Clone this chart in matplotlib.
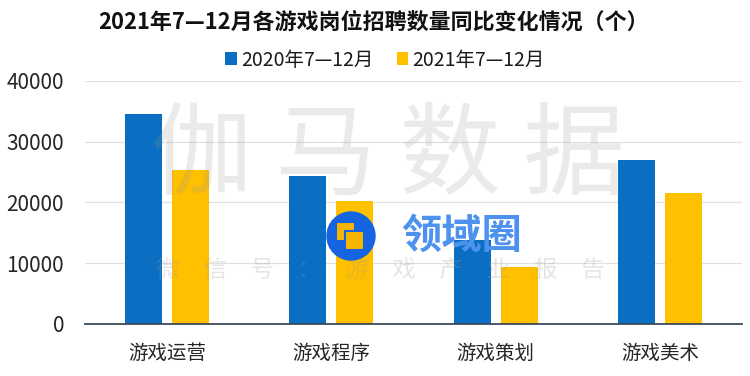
import matplotlib
matplotlib.use("Agg")
import matplotlib.pyplot as plt
from matplotlib.patches import Circle, Rectangle
import numpy as np

plt.rcParams['font.family'] = ['Noto Sans CJK SC', 'DejaVu Sans']

categories = ['游戏运营', '游戏程序', '游戏策划', '游戏美术']
series_names = ['2020年7—12月', '2021年7—12月']
values_2020 = [34600, 24300, 13800, 26900]
values_2021 = [25300, 20300, 9300, 21500]
colors = ['#0a6fc2', '#ffc000']
yticks = [0, 10000, 20000, 30000, 40000]
title = '2021年7—12月各游戏岗位招聘数量同比变化情况（个）'

fig = plt.figure(figsize=(7.5, 3.76), dpi=100)
ax = fig.add_axes([85/750, 1-324/376, 657/750, (324-80.7)/376])

x = np.arange(len(categories))
w = 0.226
ax.bar(x - 0.143, values_2020, width=w, color=colors[0], label=series_names[0], zorder=2)
ax.bar(x + 0.143, values_2021, width=w, color=colors[1], label=series_names[1], zorder=2)

ax.set_xlim(-0.5, 3.5)
ax.set_ylim(0, 40000)
ax.set_yticks(yticks)
ax.set_yticklabels([str(v) for v in yticks])
ax.set_xticks(x)
ax.set_xticklabels(categories)
ax.tick_params(axis='both', length=0, labelsize=14, colors='#262626')
ax.tick_params(axis='y', pad=15, labelsize=15)
ax.tick_params(axis='x', pad=14)
ax.grid(axis='y', color='#e0e0e0', linewidth=0.9, zorder=0)
for s in ['top', 'right', 'left']:
    ax.spines[s].set_visible(False)
ax.spines['bottom'].set_color('#3c4a5a')
ax.spines['bottom'].set_linewidth(1.3)
ax.spines['bottom'].set_zorder(3)

fig.text(373/750, 1-22/376, title, ha='center', va='center', fontsize=15.8,
         fontweight='bold', color='#111111')

fig.legend(loc='center', bbox_to_anchor=(385/750, 1-60/376), ncol=2, frameon=False,
           fontsize=14, handlelength=0.6, handleheight=0.6, handletextpad=0.2,
           columnspacing=1.2, labelcolor='#1a1a1a')

# watermark
fig.text(388/750, 1-157/376, '伽 马 数 据', ha='center', va='center', fontsize=73,
         color='#9a9a9a', alpha=0.2, fontweight='light', zorder=5)
fig.text(380/750, 1-270/376, '微\u3000信\u3000号\u3000：\u3000游\u3000戏\u3000产\u3000业\u3000报\u3000告',
         ha='center', va='center', fontsize=17, color='#9a9a9a', alpha=0.25,
         fontweight='light', zorder=5)

# logo overlay
lax = fig.add_axes([0, 0, 1, 1], zorder=10)
lax.set_xlim(0, 750)
lax.set_ylim(376, 0)
lax.axis('off')
lax.add_patch(Circle((351, 236), 24, color='#1565e0'))
lax.add_patch(Rectangle((336, 222), 19, 19, facecolor='#f7b500', edgecolor='#1565e0', linewidth=1.5))
lax.add_patch(Rectangle((345, 231), 19, 19, facecolor='#f7b500', edgecolor='#1565e0', linewidth=1.5))
lax.text(462, 236, '领域圈', ha='center', va='center', fontsize=29, fontweight='black',
         style='italic', color='#4d92ee')

fig.savefig('out.png', dpi=100)
